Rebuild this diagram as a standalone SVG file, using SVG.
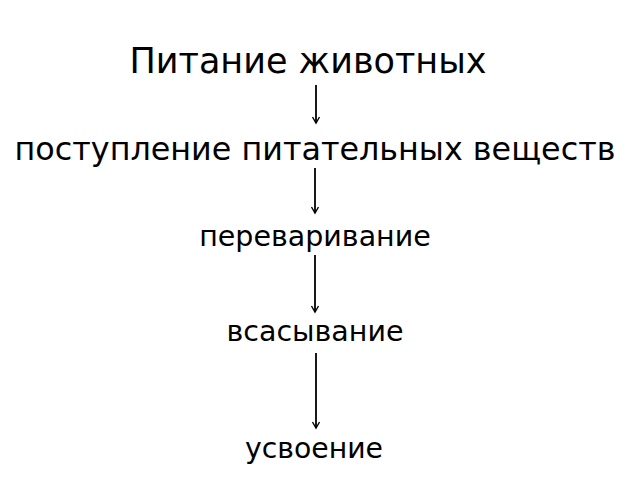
<svg xmlns="http://www.w3.org/2000/svg" width="640" height="480" viewBox="0 0 640 480">
<defs>
<style>
text{font-family:"DejaVu Sans",sans-serif;fill:#000;text-anchor:middle}
.c{stroke:#000;stroke-width:1.8;fill:none}
</style>
<marker id="ah" markerWidth="10" markerHeight="10" refX="8" refY="5" orient="auto" markerUnits="userSpaceOnUse" viewBox="0 0 10 10">
<path d="M2,1.5 L8,5 L2,8.5" stroke="#000" stroke-width="1.4" fill="none"/>
</marker>
</defs>
<rect width="640" height="480" fill="#fff"/>
<g id="n1"><text x="308" y="73" font-size="35">Питание животных</text></g>
<g id="n2"><text x="315" y="160" font-size="31.8">поступление питательных веществ</text></g>
<g id="n3"><text x="315" y="246" font-size="28.5">переваривание</text></g>
<g id="n4"><text x="315" y="341" font-size="28.5">всасывание</text></g>
<g id="n5"><text x="314" y="458" font-size="28.3">усвоение</text></g>
<g id="connectors">
<line class="c" x1="316" y1="85" x2="316" y2="123" marker-end="url(#ah)"/>
<line class="c" x1="315" y1="168" x2="315" y2="213" marker-end="url(#ah)"/>
<line class="c" x1="315" y1="255" x2="315" y2="312" marker-end="url(#ah)"/>
<line class="c" x1="316" y1="353" x2="316" y2="428" marker-end="url(#ah)"/>
</g>
</svg>
